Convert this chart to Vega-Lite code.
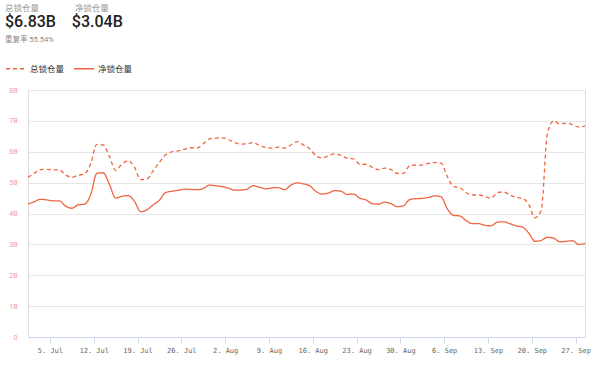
{
  "$schema": "https://vega.github.io/schema/vega-lite/v6.json",
  "autosize": {"type": "none"},
  "width": 557,
  "height": 247,
  "padding": {"left": 28, "top": 90, "right": 15, "bottom": 28},
  "background": "white",
  "title": {
    "text": "总锁仓量\u00a0\u00a0\u00a0\u00a0\u00a0\u00a0\u00a0\u00a0\u00a0\u00a0\u00a0\u00a0\u00a0\u00a0\u00a0\u00a0\u00a0净锁仓量",
    "subtitle": "$6.83B\u00a0\u00a0\u00a0\u00a0$3.04B",
    "anchor": "start",
    "frame": "group",
    "dx": -23,
    "offset": 6,
    "font": "Roboto, Noto Sans CJK SC",
    "fontSize": 8.5,
    "fontWeight": "normal",
    "color": "#9a9a9a",
    "subtitleFont": "Roboto, Noto Sans CJK SC",
    "subtitleFontSize": 16,
    "subtitleFontWeight": 500,
    "subtitleColor": "#222222",
    "subtitlePadding": 2
  },
  "data": {
    "values": [
      {"date": "2021-07-01T12:00", "total": 5.17, "net": 4.31},
      {"date": "2021-07-02T12:00", "total": 5.30, "net": 4.38},
      {"date": "2021-07-03T12:00", "total": 5.42, "net": 4.46},
      {"date": "2021-07-04T12:00", "total": 5.43, "net": 4.44},
      {"date": "2021-07-05T12:00", "total": 5.41, "net": 4.41},
      {"date": "2021-07-06T12:00", "total": 5.41, "net": 4.41},
      {"date": "2021-07-07T12:00", "total": 5.25, "net": 4.24},
      {"date": "2021-07-08T12:00", "total": 5.17, "net": 4.17},
      {"date": "2021-07-09T12:00", "total": 5.24, "net": 4.28},
      {"date": "2021-07-10T12:00", "total": 5.28, "net": 4.30},
      {"date": "2021-07-11T12:00", "total": 5.60, "net": 4.60},
      {"date": "2021-07-12T12:00", "total": 6.24, "net": 5.30},
      {"date": "2021-07-13T12:00", "total": 6.22, "net": 5.32},
      {"date": "2021-07-14T12:00", "total": 5.85, "net": 4.95},
      {"date": "2021-07-15T12:00", "total": 5.40, "net": 4.50},
      {"date": "2021-07-16T12:00", "total": 5.60, "net": 4.56},
      {"date": "2021-07-17T12:00", "total": 5.71, "net": 4.58},
      {"date": "2021-07-18T12:00", "total": 5.50, "net": 4.40},
      {"date": "2021-07-19T12:00", "total": 5.10, "net": 4.06},
      {"date": "2021-07-20T12:00", "total": 5.12, "net": 4.12},
      {"date": "2021-07-21T12:00", "total": 5.38, "net": 4.28},
      {"date": "2021-07-22T12:00", "total": 5.66, "net": 4.43},
      {"date": "2021-07-23T12:00", "total": 5.90, "net": 4.68},
      {"date": "2021-07-24T12:00", "total": 6.00, "net": 4.72},
      {"date": "2021-07-25T12:00", "total": 6.03, "net": 4.75},
      {"date": "2021-07-26T12:00", "total": 6.08, "net": 4.79},
      {"date": "2021-07-27T12:00", "total": 6.13, "net": 4.78},
      {"date": "2021-07-28T12:00", "total": 6.12, "net": 4.77},
      {"date": "2021-07-29T12:00", "total": 6.26, "net": 4.81},
      {"date": "2021-07-30T12:00", "total": 6.42, "net": 4.92},
      {"date": "2021-07-31T12:00", "total": 6.44, "net": 4.90},
      {"date": "2021-08-01T12:00", "total": 6.45, "net": 4.87},
      {"date": "2021-08-02T12:00", "total": 6.40, "net": 4.82},
      {"date": "2021-08-03T12:00", "total": 6.30, "net": 4.76},
      {"date": "2021-08-04T12:00", "total": 6.25, "net": 4.76},
      {"date": "2021-08-05T12:00", "total": 6.26, "net": 4.79},
      {"date": "2021-08-06T12:00", "total": 6.30, "net": 4.90},
      {"date": "2021-08-07T12:00", "total": 6.20, "net": 4.85},
      {"date": "2021-08-08T12:00", "total": 6.14, "net": 4.80},
      {"date": "2021-08-09T12:00", "total": 6.12, "net": 4.83},
      {"date": "2021-08-10T12:00", "total": 6.15, "net": 4.84},
      {"date": "2021-08-11T12:00", "total": 6.12, "net": 4.77},
      {"date": "2021-08-12T12:00", "total": 6.22, "net": 4.92},
      {"date": "2021-08-13T12:00", "total": 6.33, "net": 4.99},
      {"date": "2021-08-14T12:00", "total": 6.22, "net": 4.96},
      {"date": "2021-08-15T12:00", "total": 6.10, "net": 4.90},
      {"date": "2021-08-16T12:00", "total": 5.87, "net": 4.72},
      {"date": "2021-08-17T12:00", "total": 5.80, "net": 4.63},
      {"date": "2021-08-18T12:00", "total": 5.87, "net": 4.66},
      {"date": "2021-08-19T12:00", "total": 5.93, "net": 4.74},
      {"date": "2021-08-20T12:00", "total": 5.88, "net": 4.72},
      {"date": "2021-08-21T12:00", "total": 5.79, "net": 4.62},
      {"date": "2021-08-22T12:00", "total": 5.77, "net": 4.63},
      {"date": "2021-08-23T12:00", "total": 5.60, "net": 4.50},
      {"date": "2021-08-24T12:00", "total": 5.59, "net": 4.44},
      {"date": "2021-08-25T12:00", "total": 5.50, "net": 4.32},
      {"date": "2021-08-26T12:00", "total": 5.42, "net": 4.30},
      {"date": "2021-08-27T12:00", "total": 5.47, "net": 4.37},
      {"date": "2021-08-28T12:00", "total": 5.42, "net": 4.32},
      {"date": "2021-08-29T12:00", "total": 5.30, "net": 4.22},
      {"date": "2021-08-30T12:00", "total": 5.30, "net": 4.25},
      {"date": "2021-08-31T12:00", "total": 5.55, "net": 4.45},
      {"date": "2021-09-01T12:00", "total": 5.57, "net": 4.48},
      {"date": "2021-09-02T12:00", "total": 5.57, "net": 4.49},
      {"date": "2021-09-03T12:00", "total": 5.62, "net": 4.52},
      {"date": "2021-09-04T12:00", "total": 5.65, "net": 4.57},
      {"date": "2021-09-05T12:00", "total": 5.63, "net": 4.54},
      {"date": "2021-09-06T12:00", "total": 5.20, "net": 4.15},
      {"date": "2021-09-07T12:00", "total": 4.87, "net": 3.94},
      {"date": "2021-09-08T12:00", "total": 4.84, "net": 3.92},
      {"date": "2021-09-09T12:00", "total": 4.68, "net": 3.77},
      {"date": "2021-09-10T12:00", "total": 4.60, "net": 3.67},
      {"date": "2021-09-11T12:00", "total": 4.60, "net": 3.67},
      {"date": "2021-09-12T12:00", "total": 4.55, "net": 3.62},
      {"date": "2021-09-13T12:00", "total": 4.50, "net": 3.60},
      {"date": "2021-09-14T12:00", "total": 4.67, "net": 3.72},
      {"date": "2021-09-15T12:00", "total": 4.70, "net": 3.73},
      {"date": "2021-09-16T12:00", "total": 4.60, "net": 3.67},
      {"date": "2021-09-17T12:00", "total": 4.52, "net": 3.60},
      {"date": "2021-09-18T12:00", "total": 4.49, "net": 3.56},
      {"date": "2021-09-19T12:00", "total": 4.30, "net": 3.37},
      {"date": "2021-09-20T12:00", "total": 3.86, "net": 3.10},
      {"date": "2021-09-21T12:00", "total": 4.10, "net": 3.13},
      {"date": "2021-09-22T12:00", "total": 6.60, "net": 3.23},
      {"date": "2021-09-23T12:00", "total": 7.00, "net": 3.20},
      {"date": "2021-09-24T12:00", "total": 6.90, "net": 3.08},
      {"date": "2021-09-25T12:00", "total": 6.93, "net": 3.10},
      {"date": "2021-09-26T12:00", "total": 6.88, "net": 3.12},
      {"date": "2021-09-27T12:00", "total": 6.80, "net": 3.00},
      {"date": "2021-09-28T12:00", "total": 6.83, "net": 3.03}
    ]
  },
  "transform": [{"fold": ["total", "net"], "as": ["series", "value"]}],
  "mark": {"type": "line", "interpolate": "monotone", "strokeWidth": 1.3, "color": "#f0643f"},
  "encoding": {
    "x": {
      "field": "date",
      "type": "temporal",
      "scale": {"nice": false},
      "axis": {
        "title": null,
        "grid": false,
        "format": "%-d. %b",
        "values": [
          {"year": 2021, "month": "jul", "date": 5},
          {"year": 2021, "month": "jul", "date": 12},
          {"year": 2021, "month": "jul", "date": 19},
          {"year": 2021, "month": "jul", "date": 26},
          {"year": 2021, "month": "aug", "date": 2},
          {"year": 2021, "month": "aug", "date": 9},
          {"year": 2021, "month": "aug", "date": 16},
          {"year": 2021, "month": "aug", "date": 23},
          {"year": 2021, "month": "aug", "date": 30},
          {"year": 2021, "month": "sep", "date": 6},
          {"year": 2021, "month": "sep", "date": 13},
          {"year": 2021, "month": "sep", "date": 20},
          {"year": 2021, "month": "sep", "date": 27}
        ],
        "domainColor": "#ccd6eb",
        "tickColor": "#ccd6eb",
        "tickSize": 6,
        "labelPadding": 3,
        "labelFont": "DejaVu Sans Mono",
        "labelFontSize": 7,
        "labelColor": "#666666",
        "labelOverlap": false,
        "labelFlush": false
      }
    },
    "y": {
      "field": "value",
      "type": "quantitative",
      "scale": {"domain": [0, 8], "nice": false},
      "axis": {
        "title": null,
        "values": [0, 1, 2, 3, 4, 5, 6, 7, 8],
        "labelExpr": "datum.value === 0 ? '0' : datum.value + 'B'",
        "domain": false,
        "ticks": false,
        "grid": true,
        "gridColor": "#e6e6e6",
        "labelPadding": 11,
        "labelFont": "Roboto",
        "labelFontSize": 7,
        "labelColor": "#ee9e8c"
      }
    },
    "strokeDash": {
      "field": "series",
      "type": "nominal",
      "scale": {"domain": ["total", "net"], "range": [[4, 3], [1, 0]]},
      "legend": {
        "orient": "none",
        "legendX": -23,
        "legendY": -54,
        "direction": "horizontal",
        "title": "重复率 55.54%",
        "titleFont": "Roboto, Noto Sans CJK SC",
        "titleFontSize": 7.5,
        "titleFontWeight": "normal",
        "titleColor": "#888888",
        "titlePadding": 14,
        "labelExpr": "datum.value === 'total' ? '总锁仓量' : '净锁仓量'",
        "labelFont": "Noto Sans CJK SC",
        "labelFontSize": 8.5,
        "labelColor": "#333333",
        "labelOffset": 3,
        "symbolType": "stroke",
        "symbolSize": 400,
        "symbolStrokeWidth": 1.5,
        "symbolStrokeColor": "#f0643f",
        "columnPadding": 6
      }
    }
  }
}
